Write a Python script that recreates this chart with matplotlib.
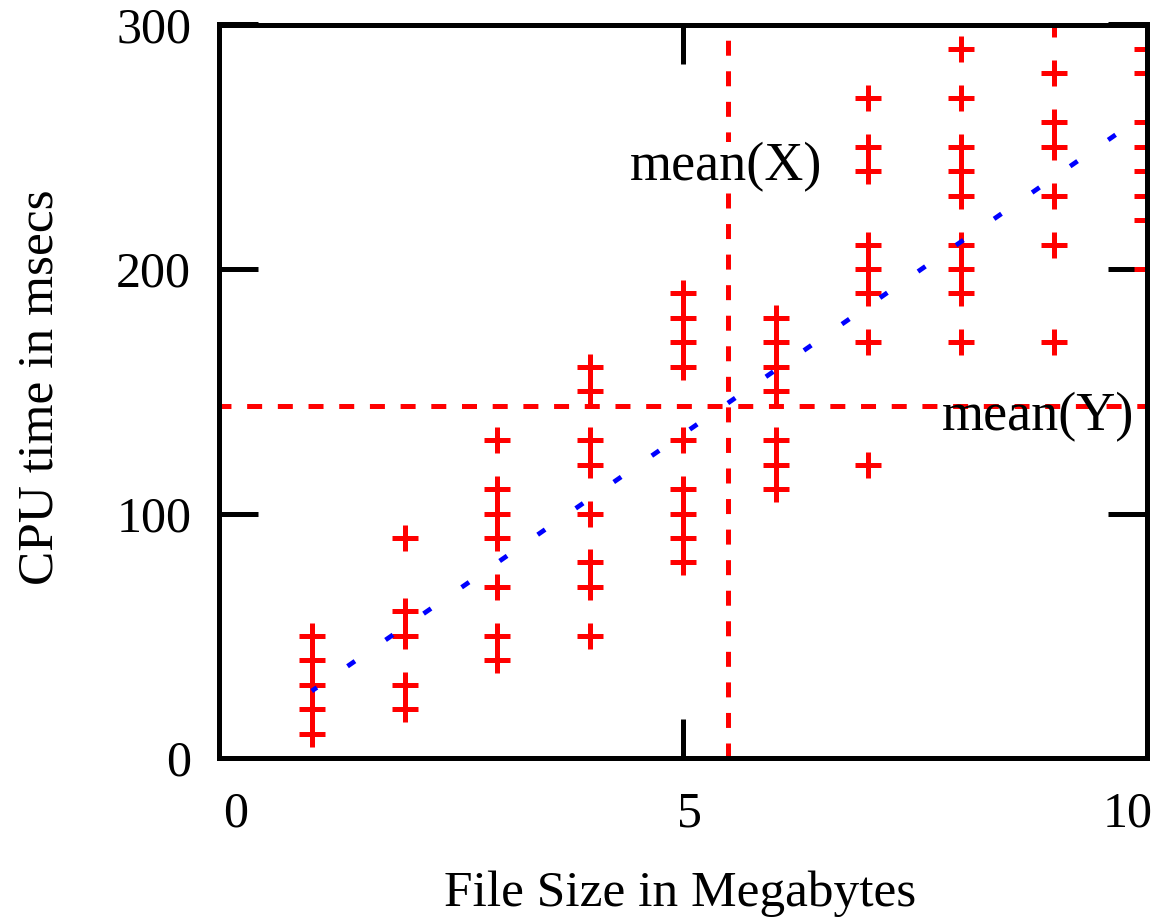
import matplotlib
matplotlib.use("Agg")
import matplotlib.pyplot as plt
from matplotlib.transforms import ScaledTranslation

# file sizes (MB) and the CPU times measured for each size
sizes_mb = [1, 2, 3, 4, 5, 6, 7, 8, 9, 10]
cpu_ms = [
    [10, 20, 30, 40, 50],
    [20, 30, 50, 60, 90],
    [40, 50, 70, 90, 100, 110, 130],
    [50, 70, 80, 100, 120, 130, 150, 160],
    [80, 90, 100, 110, 130, 160, 170, 180, 190],
    [110, 120, 130, 150, 160, 170, 180],
    [120, 170, 190, 200, 210, 240, 250, 270],
    [170, 190, 200, 210, 230, 240, 250, 270, 290],
    [170, 210, 230, 250, 260, 280, 300],
    [200, 220, 230, 240, 250, 260, 280, 290],
]

# means and least squares line
mean_x = 5.49
mean_y = 143.8
fit_x = [1, 10]
fit_y = [27.4, 263.7]

xticks = [0, 5, 10]
yticks = [0, 100, 200, 300]

plt.rcParams['font.family'] = ['Liberation Serif', 'DejaVu Serif']
plt.rcParams['lines.scale_dashes'] = False

W, H = 1152, 918
fig = plt.figure(figsize=(W / 100, H / 100), dpi=100)
ax = fig.add_axes([219 / W, 1 - 758 / H, (1146.7 - 219) / W, (758 - 24.5) / H])

xs = []
ys = []
for x, col in zip(sizes_mb, cpu_ms):
    xs += [x] * len(col)
    ys += col
ax.plot(xs, ys, ls='none', marker='+', ms=18.5, mew=3.6, color='red', zorder=2)

ax.axhline(mean_y, color='red', lw=3.6, ls=(2.2, (10.8, 11.3)), zorder=2.1)
ax.axvline(mean_x, color='red', lw=3.6, ls=(0, (10.8, 11.2)), zorder=2.1)

# regression line drawn as sparse short dashes
ax.plot(fit_x, fit_y, color='blue', lw=3.4, ls=(2.0, (6.5, 26.8)),
        solid_capstyle='butt', dash_capstyle='butt', zorder=2.2)

ax.text(4.43, 236.4, 'mean(X)', fontsize=39, va='baseline', ha='left', zorder=3,
        bbox=dict(facecolor='white', edgecolor='none', pad=0))
ax.text(7.79, 134.2, 'mean(Y)', fontsize=39, va='baseline', ha='left', zorder=3)

ax.set_xlim(0, 10)
ax.set_ylim(0, 300)
ax.set_xticks(xticks)
ax.set_yticks(yticks)
ax.tick_params(direction='in', length=28, width=3.6, top=True, right=True,
               labelsize=36, color='black')
ax.tick_params(axis='x', pad=24)
ax.tick_params(axis='y', pad=20)
for s in ax.spines.values():
    s.set_linewidth(3.6)

# nudge the x tick labels sideways
for lab, dx in zip(ax.get_xticklabels(), [17, 7, -19]):
    lab.set_transform(lab.get_transform() + ScaledTranslation(dx / 100, 0, fig.dpi_scale_trans))

fig.text(680 / W, 1 - 906 / H, 'File Size in Megabytes', fontsize=37,
         ha='center', va='baseline')
fig.text(53 / W, 1 - 387 / H, 'CPU time in msecs', fontsize=37, rotation=90,
         rotation_mode='anchor', ha='center', va='baseline')

fig.savefig('out.png', dpi=100, facecolor='white')
